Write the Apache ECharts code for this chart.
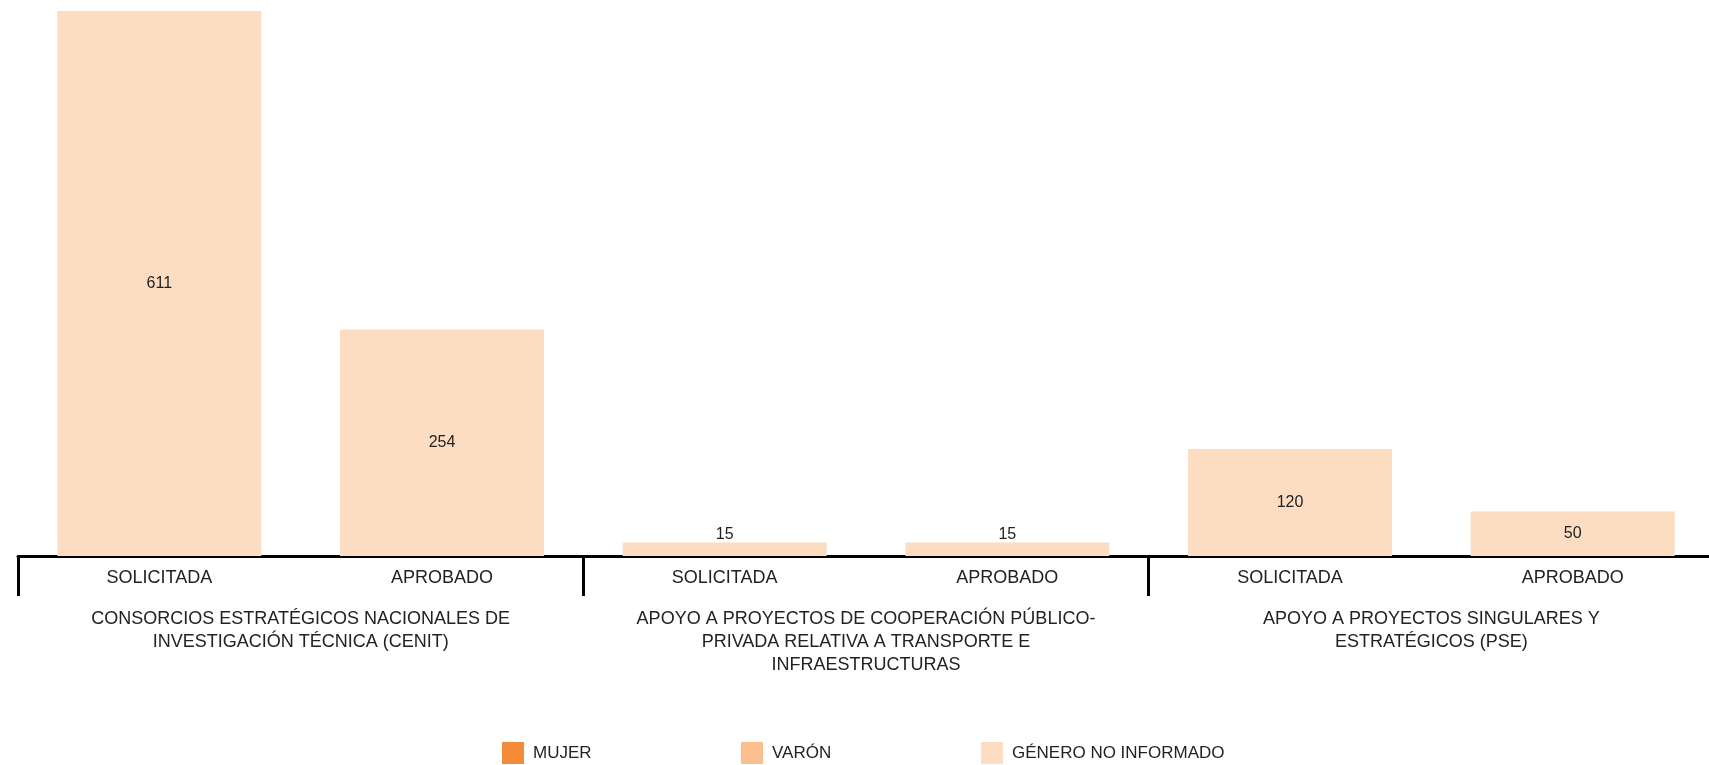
<!DOCTYPE html>
<html>
<head>
<meta charset="utf-8">
<script src="https://cdn.jsdelivr.net/npm/echarts@6/dist/echarts.min.js"></script>
<style>
html,body{margin:0;padding:0;background:#fff;}
#chart{width:1709px;height:765px;}
</style>
</head>
<body>
<div id="chart"></div>
<script>
// ---- data ----
const groups = [
  'CONSORCIOS ESTRATÉGICOS NACIONALES DE\nINVESTIGACIÓN TÉCNICA (CENIT)',
  'APOYO A PROYECTOS DE COOPERACIÓN PÚBLICO-\nPRIVADA RELATIVA A TRANSPORTE E\nINFRAESTRUCTURAS',
  'APOYO A PROYECTOS SINGULARES Y\nESTRATÉGICOS (PSE)'
];
const subCategories = ['SOLICITADA', 'APROBADO', 'SOLICITADA', 'APROBADO', 'SOLICITADA', 'APROBADO'];
const seriesNames = ['MUJER', 'VARÓN', 'GÉNERO NO INFORMADO'];
const mujer = [0, 0, 0, 0, 0, 0];
const varon = [0, 0, 0, 0, 0, 0];
const noInformado = [611, 254, 15, 15, 120, 50];
const colors = ['#F58A36', '#FBC08E', '#FDDDC2'];

const font = '"Liberation Sans", Arial, sans-serif';
const yMax = 611;
const chart = echarts.init(document.getElementById('chart'));

function mkSeries(name, data, color) {
  return {
    name: name,
    type: 'bar',
    stack: 'total',
    barWidth: 204,
    itemStyle: { color: color },
    data: data.map(v => ({
      value: v,
      // bars too short to hold their number get it just above
      label: v > 0 && v / yMax * 545 < 20 ? { position: 'top', distance: 0 } : undefined
    })),
    label: {
      show: true,
      position: 'inside',
      color: '#222',
      fontFamily: font,
      fontSize: 16,
      formatter: p => (p.value ? String(p.value) : '')
    }
  };
}

const legendLefts = [502, 741, 981];
const legends = seriesNames.map((n, i) => ({
  left: legendLefts[i],
  top: 742,
  padding: 0,
  itemWidth: 22,
  itemHeight: 22,
  icon: 'rect',
  selectedMode: false,
  data: [n],
  textStyle: {
    fontFamily: font,
    fontSize: 17,
    color: '#222',
    padding: [0, 0, 0, 4]
  }
}));

chart.setOption({
  animation: false,
  color: colors,
  grid: { left: 18, right: -5, top: 11, bottom: 209, containLabel: false, outerBoundsMode: 'none' },
  legend: legends,
  xAxis: [
    {
      type: 'category',
      data: subCategories,
      position: 'bottom',
      axisLine: { show: true, lineStyle: { color: '#000', width: 3 } },
      axisTick: { show: false },
      axisLabel: {
        color: '#222',
        fontFamily: font,
        fontSize: 18,
        margin: 13,
        interval: 0
      }
    },
    {
      type: 'category',
      data: groups,
      position: 'bottom',
      axisLine: { show: false },
      axisTick: { show: true, length: 40, lineStyle: { color: '#000', width: 3 } },
      axisLabel: {
        color: '#222',
        fontFamily: font,
        fontSize: 18,
        lineHeight: 23,
        margin: 52,
        interval: 0,
        align: 'center'
      }
    }
  ],
  yAxis: {
    type: 'value',
    min: 0,
    max: yMax,
    show: false,
    splitLine: { show: false }
  },
  series: [
    mkSeries(seriesNames[0], mujer, colors[0]),
    mkSeries(seriesNames[1], varon, colors[1]),
    mkSeries(seriesNames[2], noInformado, colors[2])
  ]
});
</script>
</body>
</html>
